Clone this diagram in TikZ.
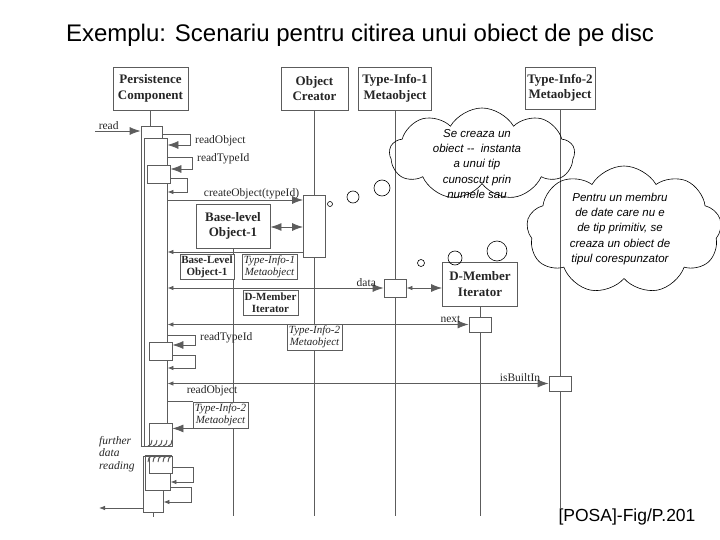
\documentclass[tikz,border=0pt]{standalone}
\usepackage{fontspec}
\setmainfont{Liberation Serif}
\newfontfamily\headfont{Liberation Sans}
\usetikzlibrary{arrows.meta,positioning,shapes.symbols}

\definecolor{scan}{gray}{0.36}
\definecolor{scantxt}{gray}{0.15}

\begin{document}
\begin{tikzpicture}[x=1pt,y=-1pt,
  font=\fontsize{11.5}{13}\selectfont,
  obj/.style={draw=scan,line width=0.9pt,fill=white,inner sep=0pt,align=center,text=scantxt,font=\fontsize{13}{15.5}\selectfont\bfseries},
  tag/.style={obj,font=\fontsize{11}{12}\selectfont\bfseries},
  itag/.style={obj,font=\fontsize{11}{12}\selectfont\itshape},
  act/.style={draw=scan,line width=0.8pt,fill=white,inner sep=0pt},
  life/.style={draw=scan,line width=0.8pt},
  msg/.style={draw=scan,line width=0.8pt,-{Latex[length=11pt,width=8pt]}},
  ret/.style={draw=scan,line width=0.8pt,-{Latex[length=6pt,width=4.5pt]}},
  both/.style={draw=scan,line width=0.8pt,{Latex[length=6pt,width=4.5pt]}-{Latex[length=11pt,width=8pt]}},
  lbl/.style={text=scantxt,inner sep=1pt},
  puff/.style={draw,cloud,cloud puffs=9,cloud puff arc=120,cloud ignores aspect,inner sep=0pt,line width=0.6pt},
  note/.style={align=center,font=\headfont\itshape\fontsize{11.5}{15.3}\selectfont},
  bub/.style={draw,circle,inner sep=0pt,line width=0.6pt}
]
\useasboundingbox (0,0) rectangle (720,540);

% --- Title and source ---
\node[font=\headfont\fontsize{24}{28}\selectfont] (title) at (360,35)
  {Exemplu: Scenariu pentru citirea unui obiect de pe disc};
\node[font=\headfont\fontsize{17.5}{20}\selectfont] (src) at (627,517) {[POSA]-Fig/P.201};

% --- Objects ---
\node[obj,minimum width=75,minimum height=43] (pc) at (150.5,88.5) {Persistence\\Component};
\node[obj,minimum width=67,minimum height=43] (oc) at (314.5,88.5) {Object\\Creator};
\node[obj,minimum width=73,minimum height=43] (t1) at (395,88.5) {Type-Info-1\\Metaobject};
\node[obj,minimum width=70,minimum height=42] (t2) at (560,88) {Type-Info-2\\Metaobject};

\coordinate (end) at (0,516);

% --- Activations ---
\node[act,minimum width=22,minimum height=62] (oca) at (314.5,226) {};
\node[act,minimum width=22,minimum height=18] (t1a) at (395,288) {};
\node[act,minimum width=22,minimum height=15] (dma) at (480,324.5) {};
\node[act,minimum width=22,minimum height=15] (t2a) at (560,383.5) {};

% --- Lifelines ---
\draw[life] (pc.south) -- ++(0,16);
\draw[life] (oc.south) -- (oca.north);
\draw[life] (oca.south) -- (oca.south |- end);
\draw[life] (t1.south) -- (t1a.north);
\draw[life] (t1a.south) -- (t1a.south |- end);
\draw[life] (t2.south) -- (t2a.north);
\draw[life] (t2a.south) -- ++(0,117);

% --- Created objects ---
\node[obj,minimum width=74,minimum height=44] (b1) at (233,226) {Base-level\\Object-1};
\node[obj,minimum width=75,minimum height=44] (dmi) at (480,284) {D-Member\\Iterator};
\draw[life] (b1.south) -- (b1.south |- end);
\draw[life] (dmi.south) -- (dma.north);
\draw[life] (dma.south) -- (dma.south |- end);

% --- Returned objects ---
\node[tag,minimum width=54,minimum height=25] (tb1) at (207,266.5) {Base-Level\\Object-1};
\node[itag,minimum width=55,minimum height=25] (tt1) at (269.5,266.5) {Type-Info-1\\Metaobject};
\node[tag,minimum width=55,minimum height=25] (tdm) at (270.5,302.5) {D-Member\\Iterator};
\node[itag,minimum width=55,minimum height=26] (tt2) at (314.5,337) {Type-Info-2\\Metaobject};
\node[itag,minimum width=55,minimum height=26] (tt2b) at (220.5,415) {Type-Info-2\\Metaobject};

% --- Persistence Component activations ---
\node[act,minimum width=21,minimum height=320] (pa1) at (151.5,286) {};
\node[act,minimum width=23,minimum height=308] (pa2) at (155.5,292) {};
\node[act,minimum width=23,minimum height=18] (ps1) at (158.5,174) {};
\node[act,minimum width=23,minimum height=18] (ps2) at (160.5,351) {};
\node[act,minimum width=23,minimum height=23] (ps3) at (160.5,434.5) {};
\node[act,minimum width=20,minimum height=56] (pb1) at (153,484) {};
\node[act,minimum width=25,minimum height=34] (pb2) at (157.5,473) {};
\node[act,minimum width=23,minimum height=17] (pb3) at (160.5,464.5) {};
\draw[life] (pb1.south) -- ++(0,5);

% break marks
\draw[scan,line width=1.2pt] (pa1.south west) -- (ps3.south east);
\draw[scan,line width=1.2pt] (pb2.north west) -- (pb3.north east);
\foreach \k in {0,...,4} {
  \draw[scan,line width=1pt] (148+5*\k,446) .. controls (151+5*\k,445) .. (152+5*\k,440);
  \draw[scan,line width=1pt] (152+5*\k,456) .. controls (149+5*\k,457) .. (148+5*\k,462);
}

% --- Messages ---
\coordinate (rdin) at (95,131);
\draw[msg] (rdin) -- node[lbl,above,pos=0.3]{read} (pa1.west |- rdin);
\draw[msg] (pa1.east |- 0,134) -| (190,145) -- (pa2.east |- 0,145);
\node[lbl,anchor=west] (l1) at (194,141) {readObject};
\draw[msg] (pa2.east |- 0,157) -| (192,169) -- (ps1.east |- 0,169);
\node[lbl,anchor=west] (l2) at (196,159) {readTypeId};
\draw[ret] (ps1.east |- 0,178) -| (187,192) -- (pa2.east |- 0,192);
\draw[msg] (pa2.east |- 0,200) -- node[lbl,above,pos=0.62]{createObject(typeId)} (oca.west |- 0,200);
\draw[draw=scan,line width=0.8pt,{Latex[length=11pt,width=8pt]}-{Latex[length=11pt,width=8pt]}]
  (b1.east |- 0,227) -- (oca.west |- 0,227);
\draw[ret] (oca.west |- 0,252) -- (pa2.east |- 0,252);
\draw[both] (pa2.east |- t1a.west) -- node[lbl,above,pos=0.92]{data} (t1a.west);
\draw[both] (t1a.east) -- (dmi.west |- t1a.east);
\draw[both] (pa2.east |- dma.west) -- node[lbl,above,pos=0.94]{next} (dma.west);
\draw[msg] (pa2.east |- 0,335) -| (195,345) -- (ps2.east |- 0,345);
\node[lbl,anchor=west] (l3) at (199,338) {readTypeId};
\draw[ret] (ps2.east |- 0,355) -| (195,368) -- (pa2.east |- 0,368);
\draw[both] (pa2.east |- t2a.west) -- node[lbl,above,pos=0.925]{isBuiltIn} (t2a.west);
\node[lbl] (l4) at (212,391) {readObject};
\draw[life] (pa2.east |- tt2b.north) -- (tt2b.north west);
\draw[msg] (tt2b.south west) -- (ps3.east |- tt2b.south west);
\draw[ret] (pb3.east |- 0,467) -| (193,482) -- (pb2.east |- 0,482);
\draw[ret] (pb2.east |- 0,487) -| (191,502) -- (pb1.east |- 0,502);
\coordinate (rdout) at (99,508);
\draw[ret] (pb1.west |- rdout) -- (rdout);
\node[lbl,align=left,anchor=west,font=\itshape\fontsize{11.5}{12.5}\selectfont] (further) at (98,454)
  {further\\data\\reading};

% --- Notes ---
\node[puff,minimum width=185,minimum height=92] (cloudA) at (482,154) {};
\node[note] (noteA) at (477,164) {Se creaza un\\obiect --\ \ instanta\\a unui tip\\cunoscut prin\\numele sau};
\node[bub,minimum size=16] (bA1) at (382,188) {};
\node[bub,minimum size=12] (bA2) at (353,197) {};
\node[bub,minimum size=5] (bA3) at (330,204) {};

\node[puff,minimum width=195,minimum height=128] (cloudB) at (624,230) {};
\node[note] (noteB) at (620,229) {Pentru un membru\\de date care nu e\\de tip primitiv, se\\creaza un obiect de\\tipul corespunzator};
\node[bub,minimum size=20] (bB1) at (497,251) {};
\node[bub,minimum size=14] (bB2) at (455,258) {};
\node[bub,minimum size=7] (bB3) at (421,263) {};
\end{tikzpicture}
\end{document}
